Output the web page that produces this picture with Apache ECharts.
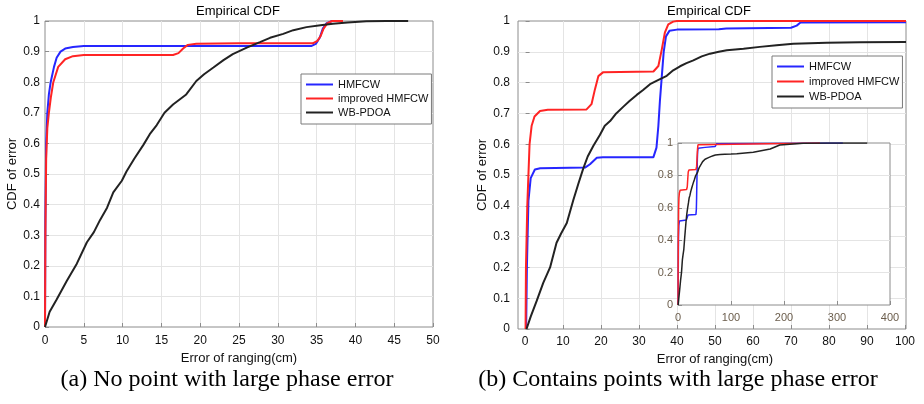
<!DOCTYPE html>
<html>
<head>
<meta charset="utf-8">
<script src="https://cdn.jsdelivr.net/npm/echarts@6/dist/echarts.min.js"></script>
<style>
  html, body { margin: 0; padding: 0; background: #fff; }
  #chart { width: 924px; height: 404px; }
</style>
</head>
<body>
<div id="chart"></div>
<script>
  var seriesNames = ['HMFCW', 'improved HMFCW', 'WB-PDOA'];
  var seriesColors = ['#2626ff', '#ff2424', '#222222'];

  // (a) no point with large phase error
  var leftHmfcw = [
    [0, 0], [0.05, 0.35], [0.15, 0.6], [0.3, 0.7], [0.5, 0.76], [0.73, 0.8], [1.16, 0.85],
    [1.5, 0.88], [2, 0.9], [2.6, 0.91], [3.6, 0.915], [5, 0.918], [34.3, 0.918], [34.9, 0.925],
    [35.4, 0.945], [35.8, 0.975], [36.3, 0.993], [37, 1]
  ];
  var leftImproved = [
    [0, 0], [0.05, 0.3], [0.15, 0.55], [0.3, 0.65], [0.5, 0.7], [0.75, 0.75], [1.07, 0.8],
    [1.7, 0.85], [2.6, 0.875], [3.6, 0.885], [5, 0.889], [16.5, 0.889], [17.2, 0.895],
    [17.8, 0.91], [18.4, 0.922], [19.5, 0.926], [25, 0.927], [34.5, 0.927], [35.1, 0.935],
    [35.5, 0.95], [35.9, 0.975], [36.4, 0.993], [37, 1], [38.4, 1]
  ];
  var leftWbpdoa = [
    [0, 0], [0.6, 0.05], [1.5, 0.09], [2.8, 0.15], [4.1, 0.207], [5.4, 0.277], [6.3, 0.31],
    [7.1, 0.35], [8, 0.39], [8.8, 0.44], [9.9, 0.478], [10.5, 0.508], [11.5, 0.55],
    [12.7, 0.596], [13.5, 0.63], [14.4, 0.66], [15.4, 0.7], [16.5, 0.727], [18.2, 0.76],
    [19.5, 0.804], [20.5, 0.826], [21.7, 0.848], [23, 0.872], [24.2, 0.892], [26, 0.913],
    [27.7, 0.931], [29, 0.945], [30.7, 0.958], [32, 0.97], [33.7, 0.98], [35.5, 0.986],
    [37.1, 0.991], [39, 0.995], [41.4, 0.999], [44, 1], [46.8, 1]
  ];

  // (b) contains points with large phase error (also used by the inset, 0-400)
  var rightHmfcw = [
    [0.3, 0], [0.5, 0.2], [0.9, 0.416], [1.5, 0.49], [2.6, 0.518], [4, 0.522], [15.8, 0.524],
    [17.1, 0.535], [18.9, 0.556], [20.5, 0.558], [33.8, 0.558], [34.6, 0.589], [35.1, 0.66],
    [35.5, 0.74], [36, 0.82], [36.5, 0.9], [37.1, 0.95], [38, 0.968], [40, 0.972], [51, 0.973],
    [53, 0.976], [70, 0.978], [71.5, 0.985], [72.5, 0.995], [73, 1], [311, 1]
  ];
  var rightImproved = [
    [0.15, 0], [0.25, 0.2], [0.6, 0.4], [0.9, 0.5], [1.2, 0.6], [1.75, 0.66], [2.5, 0.69],
    [3.95, 0.708], [6, 0.712], [16.2, 0.713], [17.5, 0.73], [18.4, 0.778], [19.3, 0.821],
    [20.6, 0.834], [33.8, 0.836], [35.1, 0.854], [36, 0.908], [36.8, 0.962], [37.7, 0.989],
    [39, 0.998], [40, 1], [268, 1]
  ];
  var rightWbpdoa = [
    [0.4, 0], [1.5, 0.04], [3.1, 0.092], [4.8, 0.15], [6.6, 0.2], [8.3, 0.28], [9.5, 0.31],
    [11, 0.344], [12.7, 0.418], [14, 0.47], [15.3, 0.52], [16.5, 0.56], [18, 0.595],
    [19.7, 0.63], [21, 0.66], [22.4, 0.675], [24, 0.7], [25.9, 0.722], [27.5, 0.74],
    [29.4, 0.76], [31, 0.775], [32.9, 0.795], [35, 0.808], [37.3, 0.822], [39, 0.84],
    [40.8, 0.853], [42.5, 0.863], [44.3, 0.872], [46.5, 0.885], [48.7, 0.894], [51, 0.9],
    [53.1, 0.905], [57.5, 0.91], [61.8, 0.916], [66.2, 0.921], [70.6, 0.926], [75, 0.928],
    [79.4, 0.929], [88.2, 0.931], [100, 0.932], [111, 0.933], [142, 0.943], [174, 0.963],
    [192, 0.988], [236, 0.998], [283, 1], [357, 1]
  ];

  var FONT = '"Liberation Sans", Arial, Helvetica, sans-serif';
  var SERIF = '"Liberation Serif", "Times New Roman", serif';

  var chart = echarts.init(document.getElementById('chart'));

  function axis (gridIndex, min, max, interval, extra) {
    var a = {
      gridIndex: gridIndex,
      type: 'value',
      min: min,
      max: max,
      interval: interval,
      axisLine: { show: false },
      axisTick: { inside: true, length: 4, lineStyle: { color: '#8c8c8c' } },
      axisLabel: { fontFamily: FONT, fontSize: 12, color: '#111', margin: 8 },
      splitLine: { show: true, showMinLine: false, showMaxLine: false, lineStyle: { color: '#e4e4e4' } },
      nameTextStyle: { fontFamily: FONT, fontSize: 13, color: '#111' }
    };
    for (var k in extra) a[k] = extra[k];
    return a;
  }

  function lines (data, xi, width, z) {
    return data.map(function (d, i) {
      return {
        name: seriesNames[i],
        type: 'line',
        xAxisIndex: xi,
        yAxisIndex: xi,
        data: d,
        showSymbol: false,
        symbol: 'none',
        clip: true,
        z: z,
        color: seriesColors[i],
        lineStyle: { color: seriesColors[i], width: width }
      };
    });
  }

  var insetLabel = { fontFamily: FONT, fontSize: 11, color: '#6b5d4c', margin: 7 };

  function legend (left, top, gap) {
    return {
      data: seriesNames,
      left: left,
      top: top,
      orient: 'vertical',
      icon: 'rect',
      itemWidth: 27,
      itemHeight: 2,
      itemGap: gap,
      padding: [4, 3, 5, 5],
      backgroundColor: '#fff',
      borderColor: '#7a7a7a',
      borderWidth: 1,
      borderRadius: 0,
      selectedMode: false,
      textStyle: { fontFamily: FONT, fontSize: 11, color: '#111', lineHeight: 13 }
    };
  }

  function label (x, y, text, size, family) {
    return {
      type: 'text',
      x: x,
      y: y,
      style: {
        text: text,
        fontSize: size,
        fontFamily: family,
        fill: '#000',
        textAlign: 'center',
        align: 'center',
        textVerticalAlign: 'middle',
        verticalAlign: 'middle'
      }
    };
  }

  var option = {
    animation: false,
    backgroundColor: '#fff',
    grid: [
      { left: 45, top: 21, width: 388, height: 306, show: true, borderColor: '#8c8c8c', borderWidth: 1 },
      { left: 525, top: 21, width: 380, height: 308 },
      { left: 678, top: 143, width: 212, height: 162, show: true, backgroundColor: '#fff', borderColor: '#8c8c8c', borderWidth: 1, z: 10 },
      { left: 518, top: 21, width: 388, height: 308, show: true, borderColor: '#8c8c8c', borderWidth: 1 }
    ],
    xAxis: [
      axis(0, 0, 50, 5, { name: 'Error of ranging(cm)', nameLocation: 'middle', nameGap: 25 }),
      axis(1, 0, 100, 10, { name: 'Error of ranging(cm)', nameLocation: 'middle', nameGap: 24, axisLabel: { fontFamily: FONT, fontSize: 12, color: '#111', margin: 7 } }),
      axis(2, 0, 400, 100, { z: 11, axisLabel: insetLabel }),
      axis(3, -2, 100, 10, { show: false })
    ],
    yAxis: [
      axis(0, 0, 1, 0.1, { name: 'CDF of error', nameLocation: 'middle', nameRotate: 90, nameGap: 25, axisLabel: { fontFamily: FONT, fontSize: 12, color: '#111', margin: 5 } }),
      axis(1, 0, 1, 0.1, { show: false }),
      axis(2, 0, 1, 0.2, { z: 11, axisLabel: { fontFamily: FONT, fontSize: 11, color: '#6b5d4c', margin: 5 } }),
      axis(3, 0, 1, 0.1, { name: 'CDF of error', nameLocation: 'middle', nameRotate: 90, nameGap: 26 })
    ],
    legend: [legend(301, 74, 1), legend(772, 56, 2)],
    graphic: [
      label(238, 11, 'Empirical CDF', 13, FONT),
      label(709, 11, 'Empirical CDF', 13, FONT),
      label(227, 380, '(a) No point with large phase error', 24, SERIF),
      label(678, 380, '(b) Contains points with large phase error', 24, SERIF)
    ],
    series: [].concat(
      lines([leftHmfcw, leftImproved, leftWbpdoa], 0, 2, 2),
      lines([rightHmfcw, rightImproved, rightWbpdoa], 1, 2, 2),
      lines([rightHmfcw, rightImproved, rightWbpdoa], 2, 1.5, 12)
    )
  };

  option && chart.setOption(option);
</script>
</body>
</html>
